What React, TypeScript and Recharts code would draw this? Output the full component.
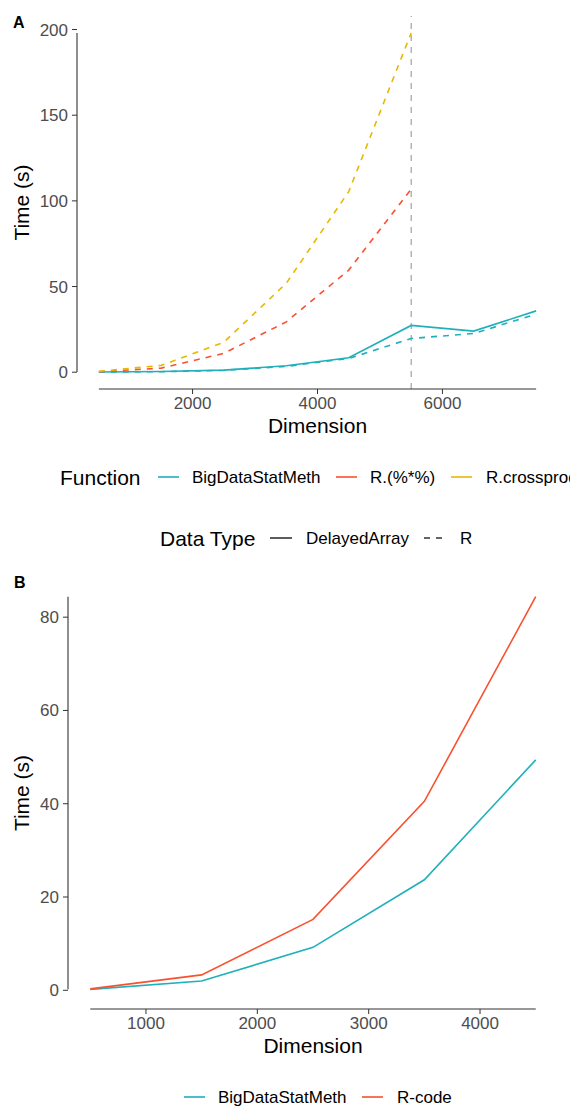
import React from 'react';
import { LineChart, Line, XAxis, YAxis, ReferenceLine } from 'recharts';

// Panel A: crossprod timings by dimension
const dimsA = [500, 1500, 2500, 3500, 4500, 5500, 6500, 7500];
const bdsmDelayedA = [0.1, 0.4, 1.2, 3.8, 8.4, 27.3, 24.0, 35.8];
const bdsmRA = [0.1, 0.3, 1.1, 3.4, 8.0, 19.7, 22.6, 33.9];
const rMatmulA = [0.3, 2.4, 11.0, 29.4, 59.6, 106.8, null, null];
const rCrossprodA = [0.5, 4.0, 17.5, 51.9, 105.4, 198.0, null, null];
const xTicksA = [2000, 4000, 6000];
const yTicksA = [0, 50, 100, 150, 200];
const cutoffA = 5500;

// Panel B
const dimsB = [500, 1500, 2500, 3500, 4500];
const bdsmB = [0.2, 2.0, 9.2, 23.7, 49.4];
const rCodeB = [0.3, 3.3, 15.2, 40.5, 84.4];
const xTicksB = [1000, 2000, 3000, 4000];
const yTicksB = [0, 20, 40, 60, 80];

const TEAL = '#1FB0BC';
const RED = '#F9512F';
const GOLD = '#E7B800';
const FONT = "'Liberation Sans', Arial, Helvetica, sans-serif";

const dataA = dimsA.map((d, i) => ({
  dim: d,
  bdsmDelayed: bdsmDelayedA[i],
  bdsmR: bdsmRA[i],
  rMatmul: rMatmulA[i],
  rCrossprod: rCrossprodA[i],
}));
const dataB = dimsB.map((d, i) => ({ dim: d, bdsm: bdsmB[i], rcode: rCodeB[i] }));

// ggplot style 5% expansion
const expand = (vals: (number | null)[]) => {
  const v = vals.filter((x) => x != null) as number[];
  const lo = Math.min(...v);
  const hi = Math.max(...v);
  const p = (hi - lo) * 0.05;
  return [lo - p, hi + p];
};

const allA = [...bdsmDelayedA, ...bdsmRA, ...rMatmulA, ...rCrossprodA];
const xDomA = expand(dimsA);
const yDomA = expand(allA);
const allB = [...bdsmB, ...rCodeB];
const xDomB = expand(dimsB);
const yDomB = expand(allB);
const yMaxA = Math.max(...(allA.filter((x) => x != null) as number[]));
const yMinA = Math.min(...(allA.filter((x) => x != null) as number[]));

const tickStyle = { fill: '#4d4d4d', fontSize: 17 };
const AXIS = '#333333';

const yTitle = (cx: number, fallbackCy: number) => (props: any) => {
  const vb = props && props.viewBox;
  const cy = vb && vb.height ? vb.y + vb.height / 2 : fallbackCy;
  return (
    <text transform={`translate(${cx},${cy}) rotate(-90)`} textAnchor="middle" dy="0.355em" fontSize={21} fill="#000">
      Time (s)
    </text>
  );
};

const fnLegend = [
  { name: 'BigDataStatMeth', color: TEAL, keyX: 158, textX: 192 },
  { name: 'R.(%*%)', color: RED, keyX: 336, textX: 370 },
  { name: 'R.crossprod', color: GOLD, keyX: 451, textX: 486 },
];
const typeLegend = [
  { name: 'DelayedArray', dash: undefined, keyX: 270, textX: 306 },
  { name: 'R', dash: '6 6', keyX: 424, textX: 460 },
];
const bLegend = [
  { name: 'BigDataStatMeth', color: TEAL, keyX: 184, textX: 218 },
  { name: 'R-code', color: RED, keyX: 362, textX: 397 },
];

export default function App() {
  return (
    <div
      style={{
        position: 'absolute',
        left: 0,
        top: 0,
        width: 570,
        height: 1109,
        overflow: 'hidden',
        background: '#fff',
        fontFamily: FONT,
      }}
    >
      <div style={{ position: 'absolute', left: 0, top: 0 }}>
        <LineChart width={570} height={450} data={dataA} margin={{ top: 16, right: 12, bottom: 11, left: 0 }}>
          <XAxis
            type="number"
            dataKey="dim"
            domain={xDomA}
            ticks={xTicksA}
            interval={0}
            height={50}
            axisLine={false}
            tickLine={{ stroke: AXIS }}
            tickSize={5}
            tickMargin={3}
            tick={tickStyle}
            label={{ value: 'Dimension', position: 'insideBottom', offset: 6, fill: '#000', fontSize: 21 }}
          />
          <YAxis
            type="number"
            domain={yDomA}
            ticks={yTicksA}
            interval={0}
            width={77}
            axisLine={false}
            tickLine={{ stroke: AXIS }}
            tickSize={5}
            tickMargin={4}
            tick={tickStyle}
            label={{ content: yTitle(22, 202) }}
          />
          <ReferenceLine x={cutoffA} stroke="#a8a8a8" strokeWidth={1.3} strokeDasharray="6 6" />
          <Line dataKey="bdsmDelayed" stroke={TEAL} strokeWidth={1.6} dot={false} isAnimationActive={false} />
          <Line dataKey="bdsmR" stroke={TEAL} strokeWidth={1.6} strokeDasharray="6 6" dot={false} isAnimationActive={false} />
          <Line dataKey="rMatmul" stroke={RED} strokeWidth={1.6} strokeDasharray="6 6" dot={false} isAnimationActive={false} />
          <Line dataKey="rCrossprod" stroke={GOLD} strokeWidth={1.6} strokeDasharray="6 6" dot={false} isAnimationActive={false} />
          <ReferenceLine
            segment={[{ x: dimsA[0], y: yDomA[0] }, { x: dimsA[dimsA.length - 1], y: yDomA[0] }]}
            stroke={AXIS}
            strokeWidth={1.1}
            ifOverflow="visible"
          />
          <ReferenceLine
            segment={[{ x: xDomA[0], y: yMinA }, { x: xDomA[0], y: yMaxA }]}
            stroke={AXIS}
            strokeWidth={1.1}
            ifOverflow="visible"
          />
        </LineChart>
      </div>

      <div style={{ position: 'absolute', left: 0, top: 560 }}>
        <LineChart width={570} height={520} data={dataB} margin={{ top: 17, right: 12, bottom: 21, left: 0 }}>
          <XAxis
            type="number"
            dataKey="dim"
            domain={xDomB}
            ticks={xTicksB}
            interval={0}
            height={50}
            axisLine={false}
            tickLine={{ stroke: AXIS }}
            tickSize={5}
            tickMargin={3}
            tick={tickStyle}
            label={{ value: 'Dimension', position: 'insideBottom', offset: 6, fill: '#000', fontSize: 21 }}
          />
          <YAxis
            type="number"
            domain={yDomB}
            ticks={yTicksB}
            interval={0}
            width={68}
            axisLine={false}
            tickLine={{ stroke: AXIS }}
            tickSize={5}
            tickMargin={4}
            tick={tickStyle}
            label={{ content: yTitle(22, 233) }}
          />
          <Line dataKey="bdsm" stroke={TEAL} strokeWidth={1.6} dot={false} isAnimationActive={false} />
          <Line dataKey="rcode" stroke={RED} strokeWidth={1.6} dot={false} isAnimationActive={false} />
          <ReferenceLine
            segment={[{ x: dimsB[0], y: yDomB[0] }, { x: dimsB[dimsB.length - 1], y: yDomB[0] }]}
            stroke={AXIS}
            strokeWidth={1.1}
            ifOverflow="visible"
          />
          <ReferenceLine
            segment={[{ x: xDomB[0], y: Math.min(...allB) }, { x: xDomB[0], y: Math.max(...allB) }]}
            stroke={AXIS}
            strokeWidth={1.1}
            ifOverflow="visible"
          />
        </LineChart>
      </div>

      {/* panel tags and legends */}
      <svg width={570} height={1109} style={{ position: 'absolute', left: 0, top: 0, pointerEvents: 'none' }}>
        <text x={13} y={28} fontSize={16} fontWeight="bold" fill="#000">A</text>
        <text x={14} y={588} fontSize={16} fontWeight="bold" fill="#000">B</text>

        <text x={60} y={477 + 7.5} fontSize={21} fill="#000">Function</text>
        {fnLegend.map((l) => (
          <g key={l.name}>
            <line x1={l.keyX} x2={l.keyX + 21} y1={477} y2={477} stroke={l.color} strokeWidth={1.6} />
            <text x={l.textX} y={477 + 6} fontSize={17} fill="#000">{l.name}</text>
          </g>
        ))}

        <text x={160} y={538 + 7.5} fontSize={21} fill="#000">Data Type</text>
        {typeLegend.map((l) => (
          <g key={l.name}>
            <line x1={l.keyX} x2={l.keyX + 22} y1={538} y2={538} stroke="#333" strokeWidth={1.6} strokeDasharray={l.dash} />
            <text x={l.textX} y={538 + 6} fontSize={17} fill="#000">{l.name}</text>
          </g>
        ))}

        {bLegend.map((l) => (
          <g key={l.name}>
            <line x1={l.keyX} x2={l.keyX + 21} y1={1097} y2={1097} stroke={l.color} strokeWidth={1.6} />
            <text x={l.textX} y={1097 + 6} fontSize={17} fill="#000">{l.name}</text>
          </g>
        ))}
      </svg>
    </div>
  );
}
